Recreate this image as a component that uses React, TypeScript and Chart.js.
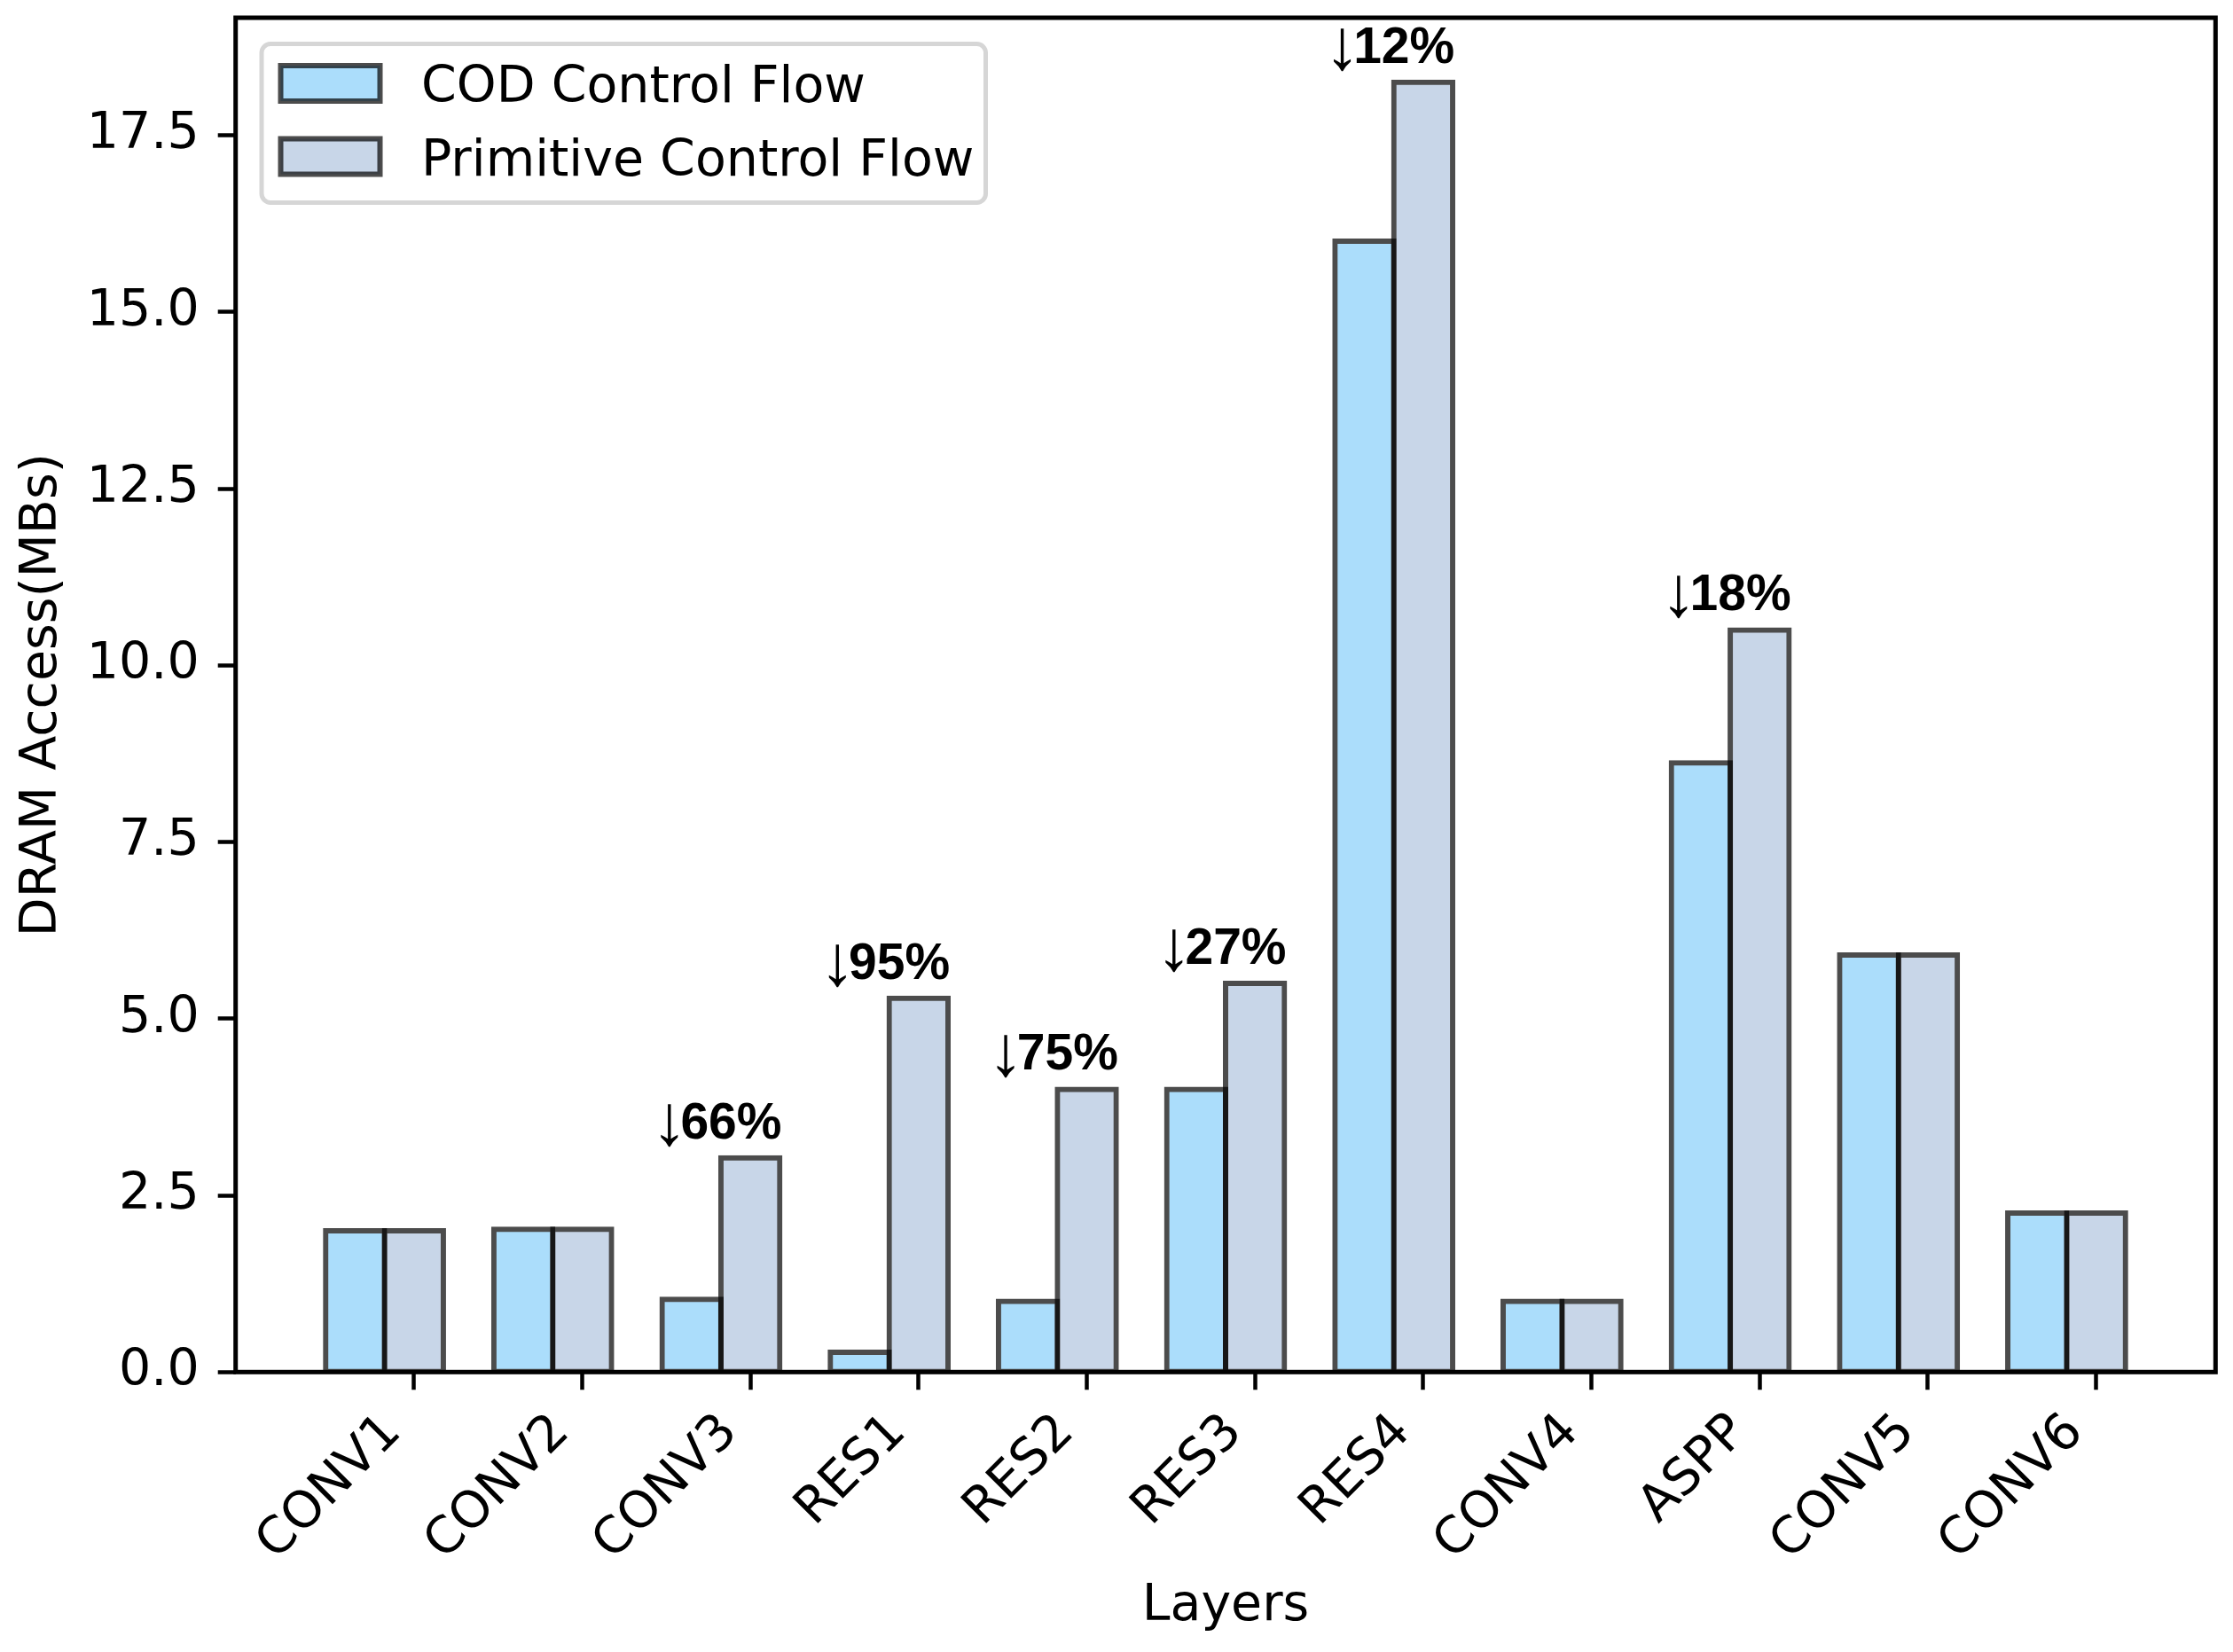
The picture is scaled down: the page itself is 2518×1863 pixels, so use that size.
import React, { useEffect, useRef } from 'react';
import { Chart, registerables } from 'chart.js';

Chart.register(...registerables);

// ---------- data ----------
const categories = ['CONV1', 'CONV2', 'CONV3', 'RES1', 'RES2', 'RES3', 'RES4', 'CONV4', 'ASPP', 'CONV5', 'CONV6'];
const codValues = [2.0, 2.02, 1.03, 0.28, 1.0, 4.0, 16.0, 1.0, 8.62, 5.9, 2.25];
const primitiveValues = [2.0, 2.02, 3.03, 5.29, 4.0, 5.5, 18.25, 1.0, 10.5, 5.9, 2.25];
const reductionLabels = [null, null, '66%', '95%', '75%', '27%', '12%', null, '18%', null, null];
const yTickValues = [0, 2.5, 5, 7.5, 10, 12.5, 15, 17.5];
const seriesNames = ['COD Control Flow', 'Primitive Control Flow'];
const xAxisTitle = 'Layers';
const yAxisTitle = 'DRAM Access(MBs)';

// ---------- geometry / style ----------
const W = 2518;
const H = 1863;
const AREA_LEFT = 265.7;
const AREA_TOP = 20;
const AREA_RIGHT = 2498.3;
const AREA_BOTTOM = 1547.3;
const BAR_W = 0.35;
const MARGIN = 0.05;
const FAMILY = "'DejaVu Sans', sans-serif";
const FONT_SIZE = 57;

const COD_FILL = 'rgb(171, 221, 251)';
const PRIM_FILL = 'rgb(200, 214, 232)';
const EDGE = 'rgba(0, 0, 0, 0.7)';

const dataMinX = -BAR_W - BAR_W / 2;
const dataMaxX = categories.length - 1 + BAR_W / 2;
const X_MIN = dataMinX - MARGIN * (dataMaxX - dataMinX);
const X_MAX = dataMaxX + MARGIN * (dataMaxX - dataMinX);
const Y_MAX = Math.max(...primitiveValues, ...codValues) * 1.05;

const framePlugin = {
  id: 'axesFrame',
  afterDatasetsDraw(chart: any) {
    const { ctx, chartArea } = chart;
    const { left, top, right, bottom } = chartArea;
    ctx.save();
    ctx.lineWidth = 5;
    ctx.strokeStyle = '#000';
    ctx.lineJoin = 'miter';
    ctx.strokeRect(left, top, right - left, bottom - top);
    ctx.restore();
  },
};

const annotationPlugin = {
  id: 'reductionLabels',
  afterDatasetsDraw(chart: any) {
    const { ctx } = chart;
    const xs = chart.scales.x;
    const ys = chart.scales.y;
    ctx.save();
    ctx.textBaseline = 'alphabetic';
    ctx.textAlign = 'left';
    ctx.fillStyle = '#000';
    const pctFont = `bold ${FONT_SIZE}px 'Liberation Sans', Arial, sans-serif`;
    const arrowFamily = "'Liberation Serif', 'Liberation Sans', 'DejaVu Sans'";
    // measure arrow glyph at a reference size, then scale it to the wanted ink height
    const refSize = 58;
    ctx.font = `normal ${refSize}px ${arrowFamily}`;
    const m0 = ctx.measureText('↓');
    const inkH0 = m0.actualBoundingBoxAscent + m0.actualBoundingBoxDescent;
    const arrowSize = inkH0 > 0 ? (refSize * 49) / inkH0 : refSize;
    const arrowFont = `normal ${arrowSize}px ${arrowFamily}`;
    ctx.font = arrowFont;
    const am = ctx.measureText('↓');
    const arrowInkLeft = -am.actualBoundingBoxLeft;
    const arrowInkW = am.actualBoundingBoxRight + am.actualBoundingBoxLeft;
    const arrowDesc = am.actualBoundingBoxDescent;

    reductionLabels.forEach((label, i) => {
      if (!label) return;
      const cx = xs.getPixelForValue(i - BAR_W / 2);
      const yb = ys.getPixelForValue(primitiveValues[i]) - 22;
      ctx.font = pctFont;
      const wp = ctx.measureText(label).width;
      const gap = 3;
      const total = arrowInkW + gap + wp;
      const x0 = cx - total / 2;
      ctx.font = arrowFont;
      // arrow ink bottom ~10px below the digits' baseline
      ctx.fillText('↓', x0 - arrowInkLeft, yb + 10 - arrowDesc);
      ctx.font = pctFont;
      ctx.fillText(label, x0 + arrowInkW + gap, yb);
    });
    ctx.restore();
  },
};

const legendPlugin = {
  id: 'boxLegend',
  afterDraw(chart: any) {
    const { ctx } = chart;
    ctx.save();
    ctx.beginPath();
    (ctx as any).roundRect(295, 49.5, 816.5, 179, 10);
    ctx.fillStyle = 'rgba(255,255,255,0.8)';
    ctx.fill();
    ctx.lineWidth = 5;
    ctx.strokeStyle = '#d6d6d6';
    ctx.stroke();
    chart.data.datasets.forEach((ds: any, k: number) => {
      const cy = 94 + k * 82.5;
      ctx.fillStyle = ds.backgroundColor;
      ctx.fillRect(316.5, cy - 20, 112, 40);
      ctx.lineWidth = 6;
      ctx.strokeStyle = ds.borderColor;
      ctx.strokeRect(316.5, cy - 20, 112, 40);
      ctx.fillStyle = '#000';
      ctx.font = `${FONT_SIZE}px ${FAMILY}`;
      ctx.textBaseline = 'alphabetic';
      ctx.textAlign = 'left';
      ctx.fillText(ds.label, 475, cy + 21);
    });
    ctx.restore();
  },
};

export default function App() {
  const ref = useRef<HTMLCanvasElement>(null);

  useEffect(() => {
    document.body.style.margin = '0';
    document.body.style.overflow = 'hidden';
    const canvas = ref.current;
    if (!canvas) return;

    const tickFont = { size: FONT_SIZE, family: FAMILY };
    const barCommon = {
      borderColor: EDGE,
      borderWidth: 6,
      borderSkipped: false,
      inflateAmount: 3,
      grouped: false,
      categoryPercentage: 1,
      barPercentage: 1,
    };

    const chart = new Chart(canvas, {
      type: 'bar',
      data: {
        datasets: [
          {
            label: seriesNames[0],
            data: codValues.map((v, i) => ({ x: i - BAR_W, y: v })),
            backgroundColor: COD_FILL,
            ...barCommon,
          } as any,
          {
            label: seriesNames[1],
            data: primitiveValues.map((v, i) => ({ x: i, y: v })),
            backgroundColor: PRIM_FILL,
            ...barCommon,
          } as any,
        ],
      },
      options: {
        animation: false,
        responsive: false,
        devicePixelRatio: 1,
        events: [],
        layout: {
          padding: { left: 0, top: AREA_TOP, right: W - AREA_RIGHT, bottom: 0 },
        },
        plugins: {
          legend: { display: false },
          tooltip: { enabled: false },
        },
        scales: {
          x: {
            type: 'linear',
            min: X_MIN,
            max: X_MAX,
            offset: false,
            grid: {
              offset: false,
              display: true,
              drawOnChartArea: false,
              drawTicks: true,
              tickLength: 20,
              tickWidth: 4.5,
              tickColor: '#000',
            },
            border: { display: false },
            ticks: {
              autoSkip: false,
              maxRotation: 45,
              minRotation: 45,
              labelOffset: -23,
              padding: 15,
              color: '#000',
              font: tickFont,
              callback: (v: any) => categories[Math.round(Number(v))] ?? '',
            },
            afterBuildTicks: (axis: any) => {
              axis.ticks = categories.map((_, i) => ({ value: i }));
            },
            afterFit: (axis: any) => {
              axis.height = H - AREA_BOTTOM;
              axis.paddingLeft = 0;
              axis.paddingRight = 0;
              axis.paddingTop = 0;
              axis.paddingBottom = 0;
            },
            title: {
              display: true,
              text: xAxisTitle,
              color: '#000',
              font: tickFont,
              padding: { top: 0, bottom: 17 },
            },
          } as any,
          y: {
            type: 'linear',
            min: 0,
            max: Y_MAX,
            grid: {
              display: true,
              drawOnChartArea: false,
              drawTicks: true,
              tickLength: 20,
              tickWidth: 4.5,
              tickColor: '#000',
            },
            border: { display: false },
            ticks: {
              padding: 21,
              color: '#000',
              font: tickFont,
              callback: (v: any) => Number(v).toFixed(1),
            },
            afterBuildTicks: (axis: any) => {
              axis.ticks = yTickValues.map((v) => ({ value: v }));
            },
            afterFit: (axis: any) => {
              axis.width = AREA_LEFT;
              axis.paddingLeft = 0;
              axis.paddingRight = 0;
              axis.paddingTop = 0;
              axis.paddingBottom = 0;
            },
            title: {
              display: true,
              text: yAxisTitle,
              color: '#000',
              font: tickFont,
              padding: { top: 14, bottom: 0 },
            },
          } as any,
        },
      },
      plugins: [framePlugin, annotationPlugin, legendPlugin],
    });

    return () => chart.destroy();
  }, []);

  return (
    <div style={{ position: 'absolute', left: 0, top: 0, width: W, height: H, background: '#fff', overflow: 'hidden' }}>
      <canvas ref={ref} width={W} height={H} style={{ width: W, height: H, display: 'block' }} />
    </div>
  );
}
